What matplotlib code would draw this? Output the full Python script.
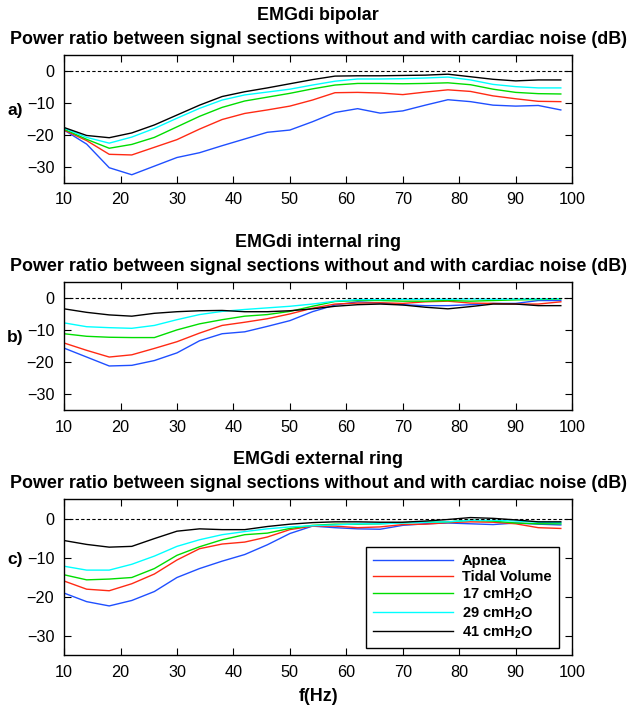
import matplotlib.pyplot as plt
import matplotlib.transforms as mtransforms

plt.rcParams['font.family'] = ['Liberation Sans', 'DejaVu Sans']
plt.rcParams['mathtext.fontset'] = 'custom'
plt.rcParams['mathtext.rm'] = 'Liberation Sans:bold'
plt.rcParams['mathtext.bf'] = 'Liberation Sans:bold'

freq = list(range(10, 99, 4))  # 10, 14, ..., 98 Hz

labels = ['Apnea', 'Tidal Volume', r'17 cmH$_\mathbf{2}$O', r'29 cmH$_\mathbf{2}$O', r'41 cmH$_\mathbf{2}$O']
colors = ['#1f4fff', '#ff2a14', '#00dd00', '#00ffff', 'black']

# a) bipolar
bip_apnea = [-18.5, -22.9, -30.3, -32.5, -29.8, -27.1, -25.6, -23.4, -21.3, -19.2, -18.5, -15.9,
             -13.0, -11.8, -13.2, -12.5, -10.7, -9.0, -9.6, -10.7, -11.0, -10.8, -12.2]
bip_tidal = [-18.5, -21.8, -26.1, -26.3, -23.9, -21.5, -18.2, -15.2, -13.3, -12.2, -11.0, -9.1,
             -6.8, -6.7, -6.9, -7.4, -6.6, -5.9, -6.4, -7.8, -8.7, -9.5, -9.6]
bip_17 = [-18.2, -21.4, -24.2, -23.0, -20.8, -17.5, -14.2, -11.4, -9.4, -8.2, -7.0, -5.6,
          -4.4, -3.9, -3.9, -4.0, -3.9, -3.7, -4.3, -5.7, -6.7, -7.1, -7.2]
bip_29 = [-17.9, -20.8, -22.6, -20.7, -18.0, -14.8, -11.7, -9.1, -7.5, -6.6, -5.7, -4.4,
          -3.2, -2.5, -2.5, -2.4, -2.2, -1.9, -2.8, -4.2, -4.9, -5.3, -5.3]
bip_41 = [-17.7, -20.2, -20.9, -19.4, -16.9, -13.8, -10.7, -8.0, -6.5, -5.3, -4.0, -2.7,
          -1.6, -1.5, -1.5, -1.4, -1.3, -1.0, -1.8, -2.6, -3.1, -2.8, -2.8]

# b) internal ring
int_apnea = [-15.6, -18.4, -21.2, -21.0, -19.5, -17.1, -13.3, -11.1, -10.5, -8.8, -7.0, -4.2,
             -2.1, -1.1, -1.5, -2.0, -2.3, -2.3, -2.0, -1.6, -1.6, -0.7, -0.7]
int_tidal = [-14.0, -16.3, -18.4, -17.7, -15.7, -13.6, -10.9, -8.5, -7.5, -6.4, -4.9, -3.1,
             -1.8, -1.5, -1.4, -1.6, -1.1, -0.9, -1.5, -1.6, -1.8, -1.8, -1.1]
int_17 = [-11.1, -11.9, -12.2, -12.3, -12.3, -9.9, -8.0, -6.7, -5.6, -5.1, -4.1, -2.5,
          -1.0, -0.7, -0.7, -0.9, -0.9, -0.7, -0.9, -0.7, -0.5, -0.4, -0.2]
int_29 = [-7.7, -8.9, -9.2, -9.4, -8.5, -6.7, -5.1, -4.1, -3.5, -3.0, -2.5, -1.8,
          -0.9, -0.4, -0.4, -0.3, -0.3, -0.3, -0.2, -0.3, -0.2, -0.2, -0.1]
int_41 = [-3.3, -4.4, -5.2, -5.6, -4.7, -4.2, -3.9, -3.8, -4.2, -4.2, -3.9, -3.3,
          -2.5, -2.0, -1.8, -2.1, -2.8, -3.3, -2.6, -1.8, -1.8, -2.3, -2.3]

# c) external ring
ext_apnea = [-19.1, -21.3, -22.4, -21.0, -18.7, -15.1, -12.8, -10.9, -9.2, -6.7, -3.8, -1.9,
             -2.3, -2.6, -2.7, -1.7, -1.3, -1.1, -1.3, -1.5, -1.1, -1.4, -1.6]
ext_tidal = [-16.0, -18.1, -18.5, -16.7, -14.2, -10.6, -7.7, -6.5, -6.0, -4.7, -2.8, -1.9,
             -1.9, -2.3, -2.1, -1.5, -1.4, -1.0, -0.8, -0.9, -1.3, -2.3, -2.5]
ext_17 = [-14.4, -15.7, -15.5, -15.1, -12.8, -9.4, -7.2, -5.4, -4.1, -3.7, -2.5, -1.7,
          -1.4, -1.4, -1.3, -1.0, -0.9, -0.8, -0.4, -0.6, -1.1, -1.3, -1.3]
ext_29 = [-12.2, -13.2, -13.2, -11.7, -9.6, -7.1, -5.4, -4.1, -3.3, -2.6, -2.1, -1.8,
          -1.6, -1.3, -1.3, -1.1, -0.9, -0.8, -0.4, -0.4, -0.6, -0.9, -1.0]
ext_41 = [-5.6, -6.6, -7.3, -7.1, -5.1, -3.2, -2.6, -2.8, -2.8, -2.0, -1.4, -1.0,
          -0.8, -0.8, -0.9, -0.9, -0.6, -0.2, 0.3, 0.1, -0.3, -0.8, -0.8]

panels = [
    ('EMGdi bipolar', 'a)', [bip_apnea, bip_tidal, bip_17, bip_29, bip_41]),
    ('EMGdi internal ring', 'b)', [int_apnea, int_tidal, int_17, int_29, int_41]),
    ('EMGdi external ring', 'c)', [ext_apnea, ext_tidal, ext_17, ext_29, ext_41]),
]
subtitle = 'Power ratio between signal sections without and with cardiac noise (dB)'

fig = plt.figure(figsize=(6.28, 7.11), dpi=100)
boxes = [[0.102, 0.743, 0.809, 0.1796],
         [0.102, 0.4233, 0.809, 0.1796],
         [0.102, 0.0788, 0.809, 0.219]]
label_y = [-12.5, -12.4, -10.5]

for i, (name, tag, series) in enumerate(panels):
    ax = fig.add_axes(boxes[i])
    for vals, lab, col in zip(series, labels, colors):
        ax.plot(freq, vals, color=col, lw=1.0, label=lab)
    ax.axhline(0, color='black', ls='--', lw=0.8, dashes=(3, 2))
    ax.set_xlim(10, 100)
    ax.set_ylim(-35, 5)
    ax.set_xticks(range(10, 101, 10))
    ax.set_yticks([-30, -20, -10, 0])
    ax.tick_params(direction='in', top=True, right=True, length=5, width=0.8,
                   labelsize=11.7, pad=7)
    for s in ax.spines.values():
        s.set_linewidth(1.0)
    ax.set_title(name + '\n' + subtitle, fontsize=12.9, fontweight='bold', pad=8, linespacing=1.55)
    trans = mtransforms.blended_transform_factory(ax.transAxes, ax.transData)
    ax.text(-0.096, label_y[i], tag, transform=trans, ha='center', va='center',
            fontsize=12.5, fontweight='bold')
    if i == 2:
        ax.set_xlabel('f(Hz)', fontsize=12.9, fontweight='bold', labelpad=6)
        ax.legend(loc='lower right', bbox_to_anchor=(0.974, 0.045), borderaxespad=0,
                  prop={'weight': 'bold', 'size': 10.5},
                  fancybox=False, edgecolor='black', framealpha=1, handlelength=5.5,
                  handletextpad=0.6, labelspacing=0.15, borderpad=0.5)

plt.savefig('out.png', dpi=100)
